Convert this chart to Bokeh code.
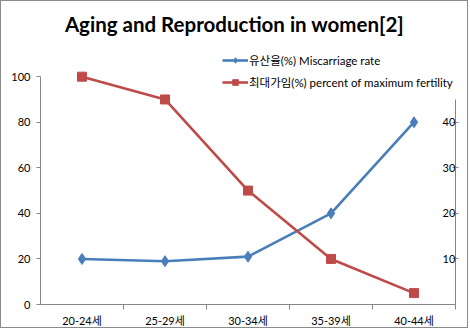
from bokeh.plotting import figure
from bokeh.models import (Range1d, LinearAxis, FixedTicker, Legend, LegendItem, ColumnDataSource, Label)
from bokeh.embed import file_html
from bokeh.resources import INLINE

title_text = "Aging and Reproduction in women[2]"
categories = ["20-24세", "25-29세", "30-34세", "35-39세", "40-44세"]
miscarriage = [10, 9.5, 10.5, 20, 40]        # right axis (%)
fertility = [100, 90, 50, 20, 5]             # left axis (%)
left_ticks = [0, 20, 40, 60, 80, 100]
right_ticks = [10, 20, 30, 40]

FONT = "Lato, Noto Sans CJK KR"
BLUE = "#4A7EBB"
RED = "#BE4B48"
AXIS = "#868686"

n = len(categories)
centers = [i + 0.5 for i in range(n)]          # category centres on a numeric scale
boundaries = [i + 1 for i in range(n)]         # category boundaries (tick marks)

p = figure(width=468, height=328, output_backend="svg", toolbar_location=None,
           x_range=Range1d(0, n), y_range=Range1d(0, 133),
           min_border_left=39, min_border_right=14, min_border_top=0, min_border_bottom=25,
           x_axis_location=None, y_axis_location=None)
p.styles = {"border": "1px solid #8a8a8a"}
p.extra_y_ranges = {"right": Range1d(0, 66.5)}
p.outline_line_color = None
p.grid.visible = False

# title drawn inside the (tall) frame
p.add_layout(Label(x=194, y=281, x_units="screen", y_units="screen", text=title_text,
                   text_font="Lato", text_font_style="bold", text_font_size="20.5px",
                   text_align="center", text_baseline="alphabetic", text_color="#000000"))

# left axis
la = LinearAxis(ticker=FixedTicker(ticks=left_ticks), bounds=(0, 100))
la.axis_line_color = AXIS
la.major_tick_line_color = AXIS
la.major_tick_out = 4
la.major_tick_in = 0
la.minor_tick_line_color = None
la.major_label_standoff = 6
la.major_label_text_font = FONT
la.major_label_text_font_size = "11px"
la.major_label_text_color = "#000000"
p.add_layout(la, "left")

# right axis (labels inside)
ra = LinearAxis(y_range_name="right", ticker=FixedTicker(ticks=right_ticks), bounds=(0, 45))
ra.axis_line_color = AXIS
ra.major_tick_line_color = AXIS
ra.major_tick_out = 3
ra.major_tick_in = 3
ra.minor_tick_line_color = None
ra.major_label_standoff = -16
ra.major_label_text_font = FONT
ra.major_label_text_font_size = "11px"
ra.major_label_text_color = "#000000"
p.add_layout(ra, "right")

# bottom: category labels at centres, tick marks at boundaries (minor ticks)
ca = LinearAxis(ticker=FixedTicker(ticks=centers, minor_ticks=boundaries),
                major_label_overrides={c: lab for c, lab in zip(centers, categories)})
ca.axis_line_color = AXIS
ca.major_tick_line_color = None
ca.major_tick_out = 0
ca.major_tick_in = 0
ca.minor_tick_line_color = AXIS
ca.minor_tick_out = 5
ca.minor_tick_in = 0
ca.major_label_standoff = 4
ca.major_label_text_font = FONT
ca.major_label_text_font_size = "11px"
ca.major_label_text_color = "#000000"
p.add_layout(ca, "below")

src = ColumnDataSource(dict(x=centers, m=miscarriage, f=fertility))

bl = p.line("x", "m", source=src, y_range_name="right", line_color=BLUE, line_width=2.6)
bs = p.scatter("x", "m", source=src, y_range_name="right", marker="diamond", size=11,
               fill_color=BLUE, line_color=BLUE)
rl = p.line("x", "f", source=src, line_color=RED, line_width=2.6)
rs = p.scatter("x", "f", source=src, marker="square", size=9, fill_color=RED, line_color=RED)

legend = Legend(items=[LegendItem(label="유산율(%) Miscarriage rate", renderers=[bl, bs]),
                       LegendItem(label="최대가임(%) percent of maximum fertility", renderers=[rl, rs])],
                location=(182, 214), orientation="vertical")
legend.glyph_width = 26
legend.glyph_height = 14
legend.label_height = 14
legend.spacing = 6
legend.padding = 0
legend.margin = 0
legend.label_standoff = 1
legend.label_text_font = FONT
legend.label_text_font_size = "11.5px"
legend.label_text_color = "#000000"
legend.background_fill_alpha = 0
legend.border_line_color = None
p.add_layout(legend, "center")

open("out.html", "w").write(file_html(p, INLINE))
